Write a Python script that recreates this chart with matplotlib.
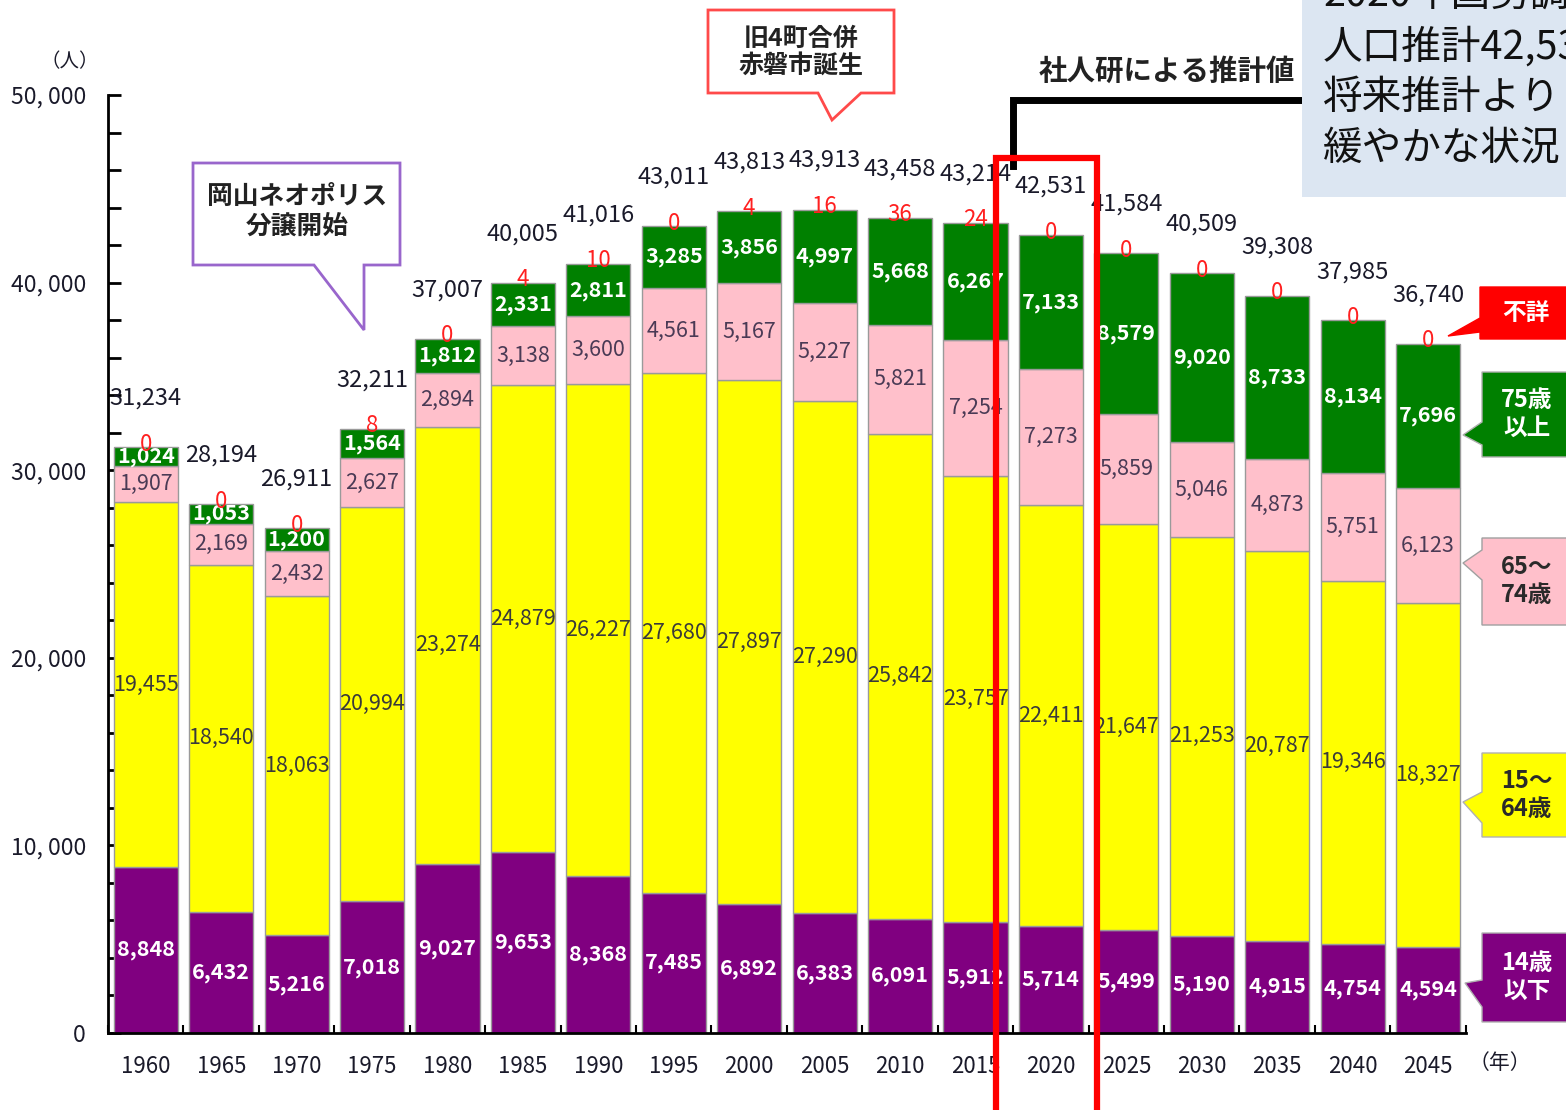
import numpy as np
import matplotlib
matplotlib.use("Agg")
import matplotlib.pyplot as plt
import matplotlib.patches as pc

plt.rcParams['font.family'] = ['Noto Sans CJK JP', 'DejaVu Sans']

# Data

years = ['1960', '1965', '1970', '1975', '1980', '1985', '1990', '1995', '2000',
         '2005', '2010', '2015', '2020', '2025', '2030', '2035', '2040', '2045']

age_0_14 = [8848, 6432, 5216, 7018, 9027, 9653, 8368, 7485, 6892,
            6383, 6091, 5912, 5714, 5499, 5190, 4915, 4754, 4594]
age_15_64 = [19455, 18540, 18063, 20994, 23274, 24879, 26227, 27680, 27897,
             27290, 25842, 23757, 22411, 21647, 21253, 20787, 19346, 18327]
age_65_74 = [1907, 2169, 2432, 2627, 2894, 3138, 3600, 4561, 5167,
             5227, 5821, 7254, 7273, 5859, 5046, 4873, 5751, 6123]
age_75_up = [1024, 1053, 1200, 1564, 1812, 2331, 2811, 3285, 3856,
             4997, 5668, 6267, 7133, 8579, 9020, 8733, 8134, 7696]
unknown = [0, 0, 0, 8, 0, 4, 10, 0, 4, 16, 36, 24, 0, 0, 0, 0, 0, 0]
totals = [31234, 28194, 26911, 32211, 37007, 40005, 41016, 43011, 43813,
          43913, 43458, 43214, 42531, 41584, 40509, 39308, 37985, 36740]

# --------------------------------------------------------------------------------------------------

fig = plt.figure(figsize=(15.66, 11.10), dpi=100)
ax = fig.add_axes([0.069, 0.0694, 0.867, 0.845])

W, H = 1566.0, 1110.0
def fp(x, y):
    # reference pixel -> figure fraction
    return (x / W, 1 - y / H)

x = np.arange(len(years))
bw = 0.85
edge = '#9a9a9a'

series = [age_0_14, age_15_64, age_65_74, age_75_up]
colors = ['#800080', '#ffff00', '#ffc0cb', '#008000']
txt_colors = ['white', '#3a3a3a', '#4a3a55', 'white']
txt_weight = ['bold', 'normal', 'normal', 'bold']

bottom = np.zeros(len(years))
for vals, col, tc, tw in zip(series, colors, txt_colors, txt_weight):
    vals = np.array(vals)
    ax.bar(x, vals, bw, bottom=bottom, color=col, edgecolor=edge, linewidth=1, zorder=2)
    for xi, b, v in zip(x, bottom, vals):
        ax.text(xi, b + v / 2, f'{v:,}', ha='center', va='center', color=tc,
                fontsize=15.5, fontweight=tw, zorder=4)
    bottom = bottom + vals

for xi, t, u in zip(x, totals, unknown):
    ax.annotate(str(u), (xi, t), xytext=(0, 2), textcoords='offset points',
                ha='center', va='center', color='#ff2020', fontsize=16, zorder=5)
    ax.annotate(f'{t:,}', (xi, t), xytext=(0, 35), textcoords='offset points',
                ha='center', va='center', color='#1a1a2a', fontsize=17, zorder=5)

# Axes styling

ax.set_xlim(-0.5, len(years) - 0.5)
ax.set_ylim(0, 50000)
ax.spines['top'].set_visible(False)
ax.spines['right'].set_visible(False)
ax.spines['left'].set_linewidth(2)
ax.spines['bottom'].set_linewidth(2)

ax.set_yticks(np.arange(0, 50001, 10000))
ax.set_yticklabels([f'{v:,}'.replace(',', ', ') for v in range(0, 50001, 10000)],
                   fontsize=16.5, color='#1a1a2a')
ax.set_yticks(np.arange(0, 50001, 2000), minor=True)
ax.tick_params(axis='y', which='both', direction='in', length=9, width=2, pad=16)

ax.set_xticks(x)
ax.set_xticklabels(years, fontsize=16, color='#1a1a2a')
ax.set_xticks(np.arange(-0.5, len(years), 1), minor=True)
ax.tick_params(axis='x', which='both', direction='in', length=6, width=1.5, pad=16)

fig.text(*fp(70, 62), '（人）', ha='center', va='center', fontsize=14, color='#1a1a2a')
fig.text(*fp(1500, 1063), '（年）', ha='center', va='center', fontsize=15, color='#1a1a2a')
# --------------------------------------------------------------------------------------------------

# Callouts

def callout(pts, face, edgec, lw=2):
    poly = pc.Polygon([fp(px, py) for px, py in pts], closed=True, transform=fig.transFigure,
                      facecolor=face, edgecolor=edgec, linewidth=lw, zorder=6)
    fig.add_artist(poly)

callout([(193, 163), (400, 163), (400, 265), (364, 265), (364, 330), (314, 265), (193, 265)],
        'white', '#9966cc')
fig.text(*fp(297, 212), '岡山ネオポリス\n分譲開始', ha='center', va='center', fontsize=18.5,
         fontweight='bold', color='#222', linespacing=1.2, zorder=7)

callout([(708, 10), (894, 10), (894, 93), (861, 93), (832, 120), (818, 93), (708, 93)],
        'white', '#ff4a4a')
fig.text(*fp(801, 52), '旧4町合併\n赤磐市誕生', ha='center', va='center', fontsize=18,
         fontweight='bold', color='#222', linespacing=1.15, zorder=7)

# bracket for projections
fig.add_artist(plt.Line2D([1013 / W, 1013 / W, 1320 / W], [1 - 166 / H, 1 - 100 / H, 1 - 100 / H],
                          transform=fig.transFigure, color='black', linewidth=5, zorder=6,
                          solid_joinstyle='miter'))
fig.text(*fp(1167, 72), '社人研による推計値', ha='center', va='center', fontsize=20.5,
         fontweight='bold', color='#222', zorder=7)

# blue note box
fig.add_artist(pc.Rectangle(fp(1302, 197), (W - 1302) / W, 197 / H, transform=fig.transFigure,
                            facecolor='#dce6f2', edgecolor='none', zorder=8))
note_lines = ['2020年国勢調査', '人口推計42,531人', '将来推計より', '緩やかな状況']
for i, line in enumerate(note_lines):
    fig.text(*fp(1323, -4 + 51 * i), line, ha='left', va='center', fontsize=28.5,
             color='#111', zorder=9)

# right side legend boxes
callout([(1480, 287), (1600, 287), (1600, 339), (1480, 339), (1480, 332), (1448, 336),
         (1480, 318)], '#ff0000', '#ff0000', 1)
fig.text(*fp(1526, 313), '不詳', ha='center', va='center', fontsize=17, fontweight='bold',
         color='white', zorder=7)

callout([(1482, 372), (1600, 372), (1600, 457), (1482, 457), (1482, 445), (1463, 435),
         (1482, 422)], '#008000', '#b0b0b0', 1)
fig.text(*fp(1527, 414), '75歳\n以上', ha='center', va='center', fontsize=17, fontweight='bold',
         color='white', linespacing=1.2, zorder=7)

callout([(1482, 538), (1600, 538), (1600, 625), (1482, 625), (1482, 580), (1463, 563),
         (1482, 550)], '#ffc0cb', '#a0a0a0', 1)
fig.text(*fp(1527, 581), '65～\n74歳', ha='center', va='center', fontsize=17, fontweight='bold',
         color='#2a2a2a', linespacing=1.2, zorder=7)

callout([(1482, 753), (1600, 753), (1600, 837), (1482, 837), (1482, 823), (1463, 802),
         (1482, 792)], '#ffff00', '#b0b0b0', 1)
fig.text(*fp(1527, 795), '15～\n64歳', ha='center', va='center', fontsize=17, fontweight='bold',
         color='#2a2a2a', linespacing=1.2, zorder=7)

callout([(1482, 933), (1600, 933), (1600, 1022), (1482, 1022), (1482, 1007), (1465, 983),
         (1482, 980)], '#800080', '#b0b0b0', 1)
fig.text(*fp(1527, 977), '14歳\n以下', ha='center', va='center', fontsize=17, fontweight='bold',
         color='white', linespacing=1.2, zorder=7)

# red highlight around 2020
fig.add_artist(pc.Rectangle(fp(996, 1120), 101 / W, (1120 - 158) / H, transform=fig.transFigure,
                            facecolor='none', edgecolor='#ff0000', linewidth=4.5, zorder=7))
# --------------------------------------------------------------------------------------------------

fig.savefig('out.png', dpi=100)
